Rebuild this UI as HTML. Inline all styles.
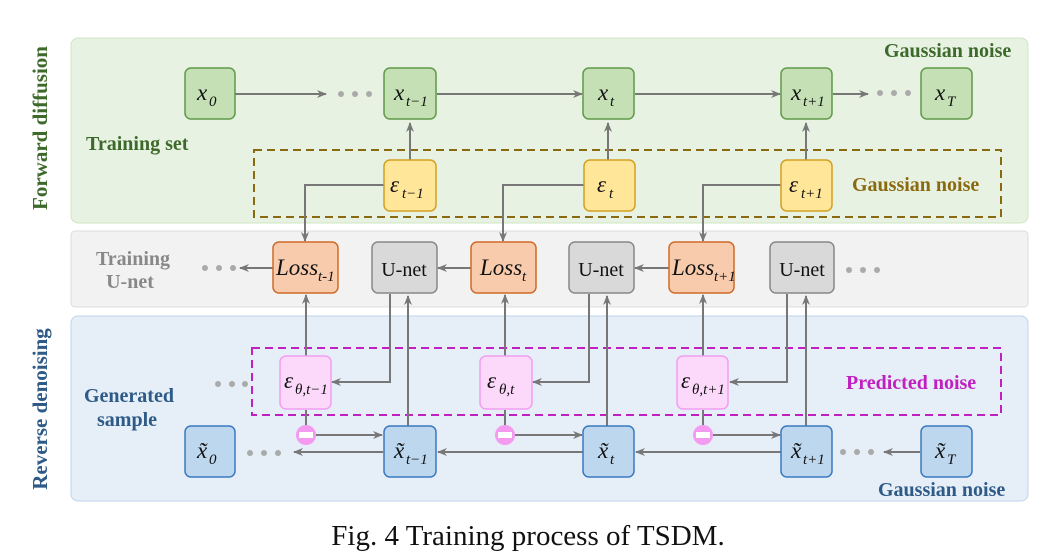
<!DOCTYPE html>
<html><head><meta charset="utf-8"><style>
body{margin:0;background:#fff;width:1056px;height:553px;overflow:hidden}
svg{display:block}
text{font-family:"Liberation Serif",serif}
.m{font-style:italic;font-size:23px;fill:#111}
.s{font-style:italic;font-size:15px;fill:#111}
.b{font-weight:bold;font-size:20px}
.v{font-weight:bold;font-size:21px}
</style></head><body>
<svg width="1056" height="553" viewBox="0 0 1056 553" xmlns="http://www.w3.org/2000/svg">
<defs><marker id="a" viewBox="0 0 10 10" refX="9" refY="5" markerWidth="10" markerHeight="10" orient="auto" markerUnits="userSpaceOnUse"><path d="M0,1 L10,5 L0,9 L3,5z" fill="#777"/></marker></defs>
<rect x="71" y="38" width="957" height="185" rx="7" fill="#e8f2e2" stroke="#cfe5c3"/>
<rect x="71" y="231" width="957" height="76" rx="4" fill="#f2f2f2" stroke="#dcdcdc"/>
<rect x="71" y="316" width="957" height="185" rx="7" fill="#e6eef7" stroke="#bcd4ec"/>
<text class="v" fill="#3d6a2b" transform="translate(47,128) rotate(-90)" text-anchor="middle">Forward diffusion</text>
<text class="v" fill="#2d5a86" transform="translate(47,409) rotate(-90)" text-anchor="middle">Reverse denoising</text>
<text class="b" fill="#3d6a2b" x="86" y="150">Training set</text>
<text class="b" fill="#3d6a2b" x="884" y="57">Gaussian noise</text>
<text class="b" fill="#888" x="133" y="265" text-anchor="middle">Training</text>
<text class="b" fill="#888" x="130" y="288" text-anchor="middle">U-net</text>
<text class="b" fill="#2d5a86" x="129" y="402" text-anchor="middle">Generated</text>
<text class="b" fill="#2d5a86" x="127" y="426" text-anchor="middle">sample</text>
<text class="b" fill="#2d5a86" x="878" y="496">Gaussian noise</text>
<rect x="254" y="150" width="747" height="67" fill="none" stroke="#8a6a10" stroke-width="2" stroke-dasharray="8,5"/>
<text class="b" fill="#8a6a10" x="852" y="191">Gaussian noise</text>
<rect x="252" y="348" width="749" height="67" fill="none" stroke="#c020c0" stroke-width="2" stroke-dasharray="8,5"/>
<text class="b" fill="#c020c0" x="846" y="389">Predicted noise</text>
<g stroke="#777" stroke-width="2" fill="none">
<line x1="234" y1="94" x2="326" y2="94" marker-end="url(#a)"/>
<line x1="437" y1="94" x2="582" y2="94" marker-end="url(#a)"/>
<line x1="635" y1="94" x2="780" y2="94" marker-end="url(#a)"/>
<line x1="833" y1="94" x2="868" y2="94" marker-end="url(#a)"/>
<line x1="410" y1="160" x2="410" y2="123" marker-end="url(#a)"/>
<line x1="608" y1="160" x2="608" y2="123" marker-end="url(#a)"/>
<line x1="806" y1="160" x2="806" y2="123" marker-end="url(#a)"/>
<polyline points="384,185 305,185 305,241" marker-end="url(#a)"/>
<polyline points="584,185 503,185 503,241" marker-end="url(#a)"/>
<polyline points="781,185 703,185 703,241" marker-end="url(#a)"/>
<line x1="273" y1="268" x2="240" y2="268" marker-end="url(#a)"/>
<line x1="471" y1="268" x2="438" y2="268" marker-end="url(#a)"/>
<line x1="669" y1="268" x2="635" y2="268" marker-end="url(#a)"/>
<line x1="306" y1="356" x2="306" y2="295" marker-end="url(#a)"/>
<line x1="505" y1="356" x2="505" y2="295" marker-end="url(#a)"/>
<line x1="703" y1="356" x2="703" y2="295" marker-end="url(#a)"/>
<polyline points="390,294 390,382 332,382" marker-end="url(#a)"/>
<polyline points="589,294 589,382 533,382" marker-end="url(#a)"/>
<polyline points="787,294 787,382 730,382" marker-end="url(#a)"/>
<line x1="408" y1="426" x2="408" y2="296" marker-end="url(#a)"/>
<line x1="607" y1="426" x2="607" y2="296" marker-end="url(#a)"/>
<line x1="806" y1="426" x2="806" y2="296" marker-end="url(#a)"/>
<line x1="306" y1="410" x2="306" y2="427"/><line x1="505" y1="410" x2="505" y2="427"/><line x1="703" y1="410" x2="703" y2="427"/>
<line x1="316" y1="435" x2="382" y2="435" marker-end="url(#a)"/>
<line x1="515" y1="435" x2="582" y2="435" marker-end="url(#a)"/>
<line x1="713" y1="435" x2="780" y2="435" marker-end="url(#a)"/>
<line x1="383" y1="452" x2="294" y2="452" marker-end="url(#a)"/>
<line x1="583" y1="452" x2="438" y2="452" marker-end="url(#a)"/>
<line x1="781" y1="452" x2="636" y2="452" marker-end="url(#a)"/>
<line x1="920" y1="452" x2="884" y2="452" marker-end="url(#a)"/>
</g>
<g fill="#aaa">
<circle cx="341" cy="94" r="3"/><circle cx="355" cy="94" r="3"/><circle cx="369" cy="94" r="3"/>
<circle cx="880" cy="93" r="3"/><circle cx="894" cy="93" r="3"/><circle cx="908" cy="93" r="3"/>
<circle cx="205" cy="268" r="3"/><circle cx="219" cy="268" r="3"/><circle cx="233" cy="268" r="3"/>
<circle cx="849" cy="270" r="3"/><circle cx="863" cy="270" r="3"/><circle cx="877" cy="270" r="3"/>
<circle cx="218" cy="384" r="3"/><circle cx="232" cy="384" r="3"/><circle cx="245" cy="384" r="3"/>
<circle cx="250" cy="453" r="3"/><circle cx="264" cy="453" r="3"/><circle cx="278" cy="453" r="3"/>
<circle cx="843" cy="452" r="3"/><circle cx="857" cy="452" r="3"/><circle cx="871" cy="452" r="3"/>
</g>
<g stroke="#5f9a48" stroke-width="1.5" fill="#c5e0b4">
<rect x="185" y="68" width="50" height="51" rx="6"/><rect x="384" y="68" width="52" height="51" rx="6"/>
<rect x="583" y="68" width="51" height="51" rx="6"/><rect x="781" y="68" width="51" height="51" rx="6"/>
<rect x="921" y="68" width="51" height="51" rx="6"/></g>
<text class="m" x="197" y="100">x</text><text class="s" x="209" y="106">0</text>
<text class="m" x="394" y="100">x</text><text class="s" x="406" y="106">t−1</text>
<text class="m" x="598" y="100">x</text><text class="s" x="610" y="106">t</text>
<text class="m" x="791" y="100">x</text><text class="s" x="803" y="106">t+1</text>
<text class="m" x="935" y="100">x</text><text class="s" x="947" y="106">T</text>
<g stroke="#d4a020" stroke-width="1.5" fill="#ffe699">
<rect x="384" y="160" width="52" height="51" rx="6"/><rect x="584" y="160" width="51" height="51" rx="6"/><rect x="781" y="160" width="51" height="51" rx="6"/></g>
<text class="m" x="390" y="192">ε</text><text class="s" x="402" y="198">t−1</text>
<text class="m" x="597" y="192">ε</text><text class="s" x="609" y="198">t</text>
<text class="m" x="789" y="192">ε</text><text class="s" x="801" y="198">t+1</text>
<g stroke="#d06a28" stroke-width="1.5" fill="#f8cbad">
<rect x="273" y="242" width="65" height="51" rx="6"/><rect x="471" y="242" width="65" height="51" rx="6"/><rect x="669" y="242" width="65" height="51" rx="6"/></g>
<g stroke="#888" stroke-width="1.5" fill="#d9d9d9">
<rect x="372" y="242" width="65" height="51" rx="6"/><rect x="569" y="242" width="65" height="51" rx="6"/><rect x="770" y="242" width="64" height="51" rx="6"/></g>
<text class="m" x="276" y="275">Loss</text><text class="s" x="318" y="281">t-1</text>
<text class="m" x="480" y="275">Loss</text><text class="s" x="522" y="281">t</text>
<text class="m" x="672" y="275">Loss</text><text class="s" x="714" y="281">t+1</text>
<g font-size="20" fill="#111" text-anchor="middle"><text x="404" y="276">U-net</text><text x="601" y="276">U-net</text><text x="802" y="276">U-net</text></g>
<g stroke="#f29ef0" stroke-width="1.5" fill="#fcd9fa">
<rect x="280" y="356" width="51" height="53" rx="6"/><rect x="480" y="356" width="52" height="53" rx="6"/><rect x="677" y="356" width="51" height="53" rx="6"/></g>
<text class="m" x="284" y="388">ε</text><text class="s" x="295" y="394">θ,t−1</text>
<text class="m" x="487" y="388">ε</text><text class="s" x="499" y="394">θ,t</text>
<text class="m" x="681" y="388">ε</text><text class="s" x="692" y="394">θ,t+1</text>
<g fill="#f49af0"><circle cx="306" cy="435" r="10"/><circle cx="505" cy="435" r="10"/><circle cx="703" cy="435" r="10"/></g>
<g fill="#fff"><rect x="299" y="432" width="14" height="6"/><rect x="498" y="432" width="14" height="6"/><rect x="696" y="432" width="14" height="6"/></g>
<g stroke="#3a78c0" stroke-width="1.5" fill="#bdd7ee">
<rect x="185" y="426" width="50" height="51" rx="6"/><rect x="384" y="426" width="52" height="51" rx="6"/>
<rect x="583" y="426" width="51" height="51" rx="6"/><rect x="781" y="426" width="51" height="51" rx="6"/>
<rect x="921" y="426" width="51" height="51" rx="6"/></g>
<text class="m" x="197" y="458">x̃</text><text class="s" x="209" y="464">0</text>
<text class="m" x="394" y="458">x̃</text><text class="s" x="406" y="464">t−1</text>
<text class="m" x="598" y="458">x̃</text><text class="s" x="610" y="464">t</text>
<text class="m" x="791" y="458">x̃</text><text class="s" x="803" y="464">t+1</text>
<text class="m" x="935" y="458">x̃</text><text class="s" x="947" y="464">T</text>
<text x="528" y="545" font-size="29" fill="#111" text-anchor="middle">Fig. 4 Training process of TSDM.</text>
</svg>
</body></html>
